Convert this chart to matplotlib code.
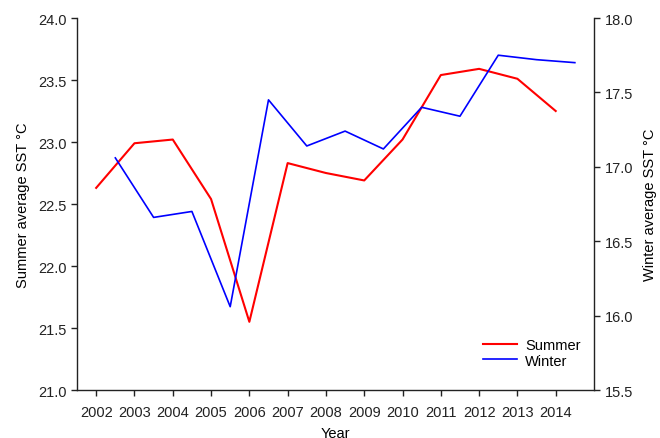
import numpy as np
import matplotlib.pyplot as plt

plt.rcParams['font.family'] = ['Liberation Sans', 'DejaVu Sans']
plt.rcParams['font.size'] = 10

# summer means sit on the year, winter means half a year later
years = np.arange(2002, 2015)
summer_sst = [22.63, 22.99, 23.02, 22.54, 21.55, 22.83, 22.75, 22.69, 23.02, 23.54, 23.59, 23.51, 23.25]
winter_sst = [17.06, 16.66, 16.70, 16.06, 17.45, 17.14, 17.24, 17.12, 17.40, 17.34, 17.75, 17.72, 17.70]

fig = plt.figure(figsize=(6.6, 4.39), dpi=100)
ax = fig.add_axes([0.1167, 0.1093, 0.9 - 0.1167, 0.9567 - 0.1093])
ax2 = ax.twinx()

l1, = ax.plot(years, summer_sst, color='#ff0000', lw=1.5, label='Summer')
l2, = ax2.plot(years + 0.5, winter_sst, color='#0000ff', lw=1.2, label='Winter')

ax.set_xlim(2001.5, 2015)
ax.set_ylim(21.0, 24.0)
ax2.set_ylim(15.5, 18.0)
ax.set_xticks(years)
ax.set_xticklabels([str(y) for y in years])
ax.set_yticks(np.arange(21.0, 24.01, 0.5))
ax2.set_yticks(np.arange(15.5, 18.01, 0.5))
ax.yaxis.set_major_formatter(plt.FormatStrFormatter('%.1f'))
ax2.yaxis.set_major_formatter(plt.FormatStrFormatter('%.1f'))

for a in (ax, ax2):
    a.spines['top'].set_visible(False)
    for s in a.spines.values():
        s.set_linewidth(1.0)
        s.set_color('#222222')
    a.tick_params(direction='out', length=4, width=1.0, colors='#222222', labelsize=10.5)
ax.tick_params(axis='x', pad=6.5)
ax.spines['right'].set_visible(False)
ax2.spines['left'].set_visible(False)
ax2.spines['bottom'].set_visible(False)

ax.set_xlabel('Year', fontsize=10.5, labelpad=5)
ax.set_ylabel('Summer average SST \u00b0C', fontsize=10.5, labelpad=6)
ax2.set_ylabel('Winter average SST \u00b0C', fontsize=10.5, labelpad=7)

ax2.legend([l1, l2], ['Summer', 'Winter'], loc='lower right', frameon=False,
           bbox_to_anchor=(1.0, 0.025), fontsize=10.5, handlelength=2.3,
           labelspacing=0.1, handletextpad=0.6)

fig.savefig('out.png', dpi=100)
